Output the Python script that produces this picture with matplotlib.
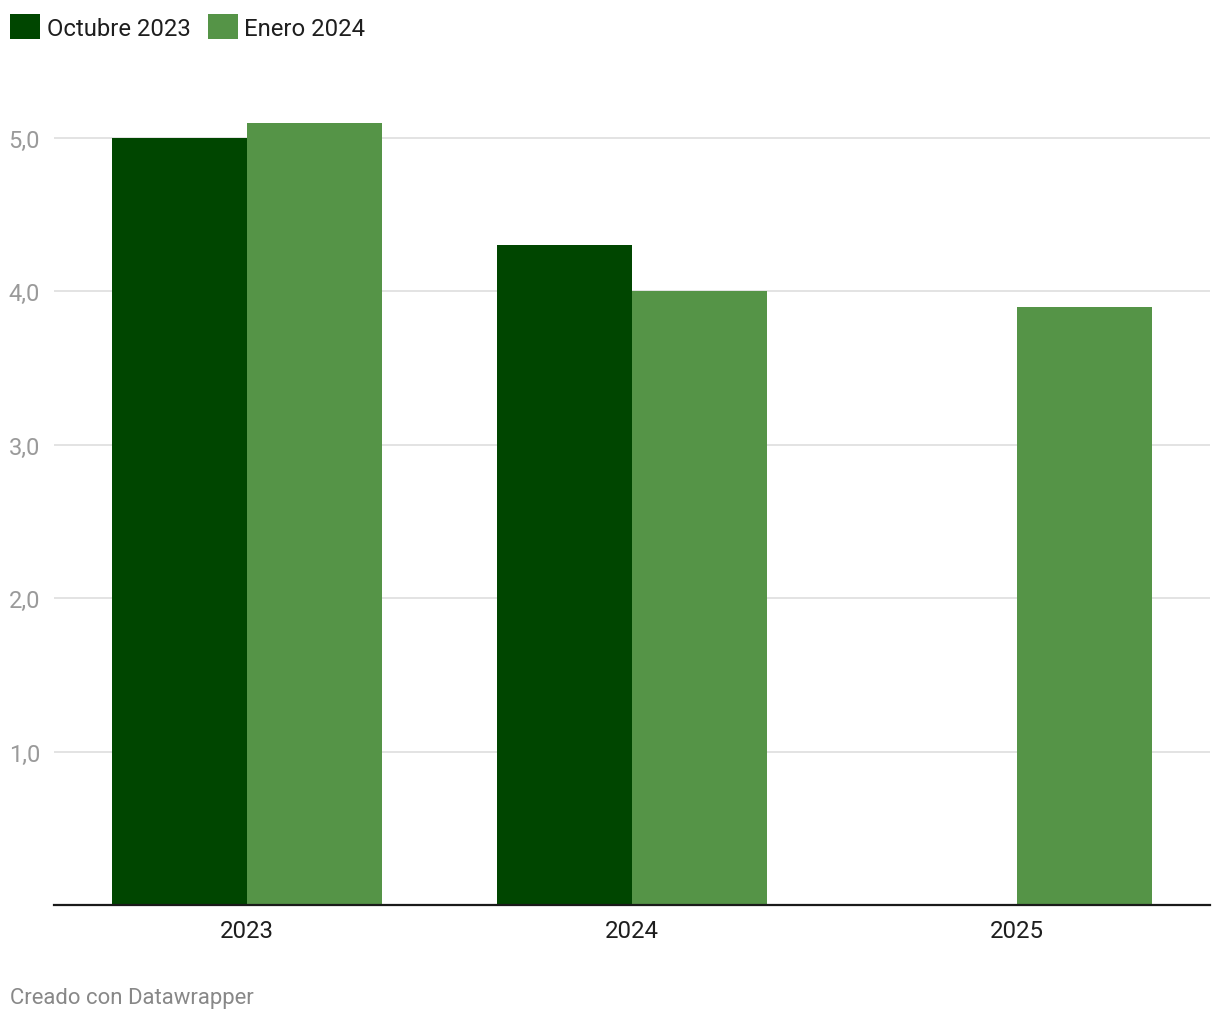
import numpy as np
import matplotlib
matplotlib.use("Agg")
import matplotlib.pyplot as plt
from matplotlib.patches import Patch

plt.rcParams['font.family'] = ['Roboto', 'DejaVu Sans']

categories = ["2023", "2024", "2025"]
series_names = ["Octubre 2023", "Enero 2024"]
octubre_2023 = [5.0, 4.3, np.nan]
enero_2024 = [5.1, 4.0, 3.9]
y_ticks = [1.0, 2.0, 3.0, 4.0, 5.0]
y_tick_labels = ["1,0", "2,0", "3,0", "4,0", "5,0"]

colors = ["#004600", "#559447"]

W, H = 1220, 1020
fig = plt.figure(figsize=(W / 100, H / 100), dpi=100)
left, right, bottom, top = 54, 1210, 906, 81
ax = fig.add_axes([left / W, (H - bottom) / H, (right - left) / W, (bottom - top) / H])

x = np.arange(len(categories))
bw = 0.35
ax.bar(x - bw / 2, octubre_2023, width=bw, color=colors[0], align='center', zorder=3)
ax.bar(x + bw / 2, enero_2024, width=bw, color=colors[1], align='center', zorder=3)

ax.set_xlim(-0.5, len(categories) - 0.5)
ax.set_ylim(0, (bottom - top) / 153.4)

ax.set_yticks(y_ticks)
ax.set_yticklabels(y_tick_labels)
ax.set_xticks(x)
ax.set_xticklabels(categories)

ax.grid(axis='y', color='#e0e0e0', linewidth=1.3, zorder=0)
ax.grid(axis='x', visible=False)
for s in ['top', 'right', 'left']:
    ax.spines[s].set_visible(False)
ax.spines['bottom'].set_color('#1a1a1a')
ax.spines['bottom'].set_linewidth(1.6)
ax.spines['bottom'].set_zorder(4)

ax.tick_params(axis='y', length=0, pad=10, labelsize=17, labelcolor='#9a9a9a')
ax.tick_params(axis='x', length=0, pad=10, labelsize=17.3, labelcolor='#1e1e1e')
for lab in ax.get_yticklabels():
    lab.set_verticalalignment('center_baseline')

handles = [Patch(facecolor=c, edgecolor='none') for c in colors]
fig.legend(handles, series_names, loc='upper left', bbox_to_anchor=(3 / W, 1 - 8 / H),
           frameon=False, fontsize=17.2, handlelength=1.25, handleheight=1.25,
           handletextpad=0.28, columnspacing=0.72, ncol=2, borderaxespad=0, borderpad=0.3,
           labelcolor='#1e1e1e')

fig.text(10 / W, 1 - 999 / H, "Creado con Datawrapper", fontsize=15.9, color='#888888',
         ha='left', va='center')

fig.savefig("out.png", dpi=100, facecolor='white')
